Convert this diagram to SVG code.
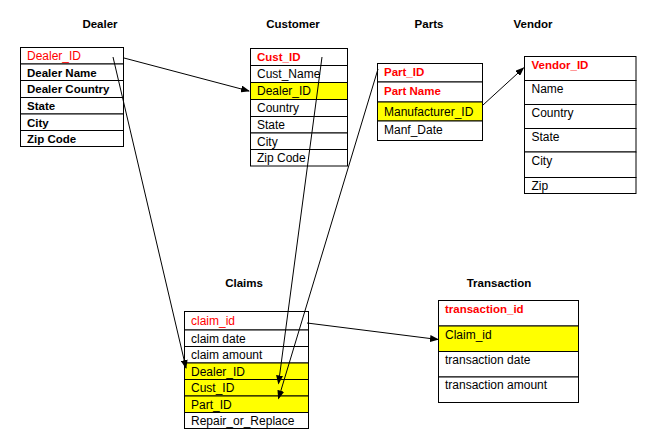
<svg xmlns="http://www.w3.org/2000/svg" width="665" height="431" viewBox="0 0 665 431">
<style>
text{font-family:"Liberation Sans",Arial,sans-serif;font-size:12px;fill:#000}
.t{font-weight:bold;font-size:11.5px;text-anchor:middle}
.b{font-weight:bold;font-size:11.5px}
.k{fill:#ff0000}
.kb{fill:#ff0000;font-weight:bold;font-size:11.5px}
.cell{fill:#fff;stroke:#000;stroke-width:1}
.fk{fill:#ffff00;stroke:#000;stroke-width:1}
.c{stroke:#000;stroke-width:1;fill:none;marker-end:url(#ah)}
</style>
<defs>
<marker id="ah" markerWidth="9" markerHeight="7" refX="8" refY="3.5" orient="auto" markerUnits="userSpaceOnUse">
<path d="M0,0 L9,3.5 L0,7 z" fill="#000"/>
</marker>
</defs>
<rect width="665" height="431" fill="#fff"/>

<g id="dealer">
<text class="t" x="100" y="28">Dealer</text>
<rect class="cell" x="20.5" y="47.5" width="103" height="16.5"/>
<rect class="cell" x="20.5" y="64" width="103" height="16.5"/>
<rect class="cell" x="20.5" y="80.5" width="103" height="17"/>
<rect class="cell" x="20.5" y="97.5" width="103" height="16.5"/>
<rect class="cell" x="20.5" y="114" width="103" height="16.5"/>
<rect class="cell" x="20.5" y="130.5" width="103" height="16"/>
<text class="k" x="27" y="60">Dealer_ID</text>
<text class="b" x="27" y="76.5">Dealer Name</text>
<text class="b" x="27" y="93">Dealer Country</text>
<text class="b" x="27" y="110">State</text>
<text class="b" x="27" y="126.5">City</text>
<text class="b" x="27" y="143">Zip Code</text>
</g>

<g id="customer">
<text class="t" x="293" y="28">Customer</text>
<rect class="cell" x="250.5" y="48.5" width="97" height="17"/>
<rect class="cell" x="250.5" y="65.5" width="97" height="17"/>
<rect class="fk" x="250.5" y="82.5" width="97" height="17"/>
<rect class="cell" x="250.5" y="99.5" width="97" height="17"/>
<rect class="cell" x="250.5" y="116.5" width="97" height="16.5"/>
<rect class="cell" x="250.5" y="133" width="97" height="16.5"/>
<rect class="cell" x="250.5" y="149.5" width="97" height="16.5"/>
<text class="kb" x="257" y="61">Cust_ID</text>
<text x="257" y="78">Cust_Name</text>
<text x="257" y="95">Dealer_ID</text>
<text x="257" y="112">Country</text>
<text x="257" y="129">State</text>
<text x="257" y="145.5">City</text>
<text x="257" y="162">Zip Code</text>
</g>

<g id="parts">
<text class="t" x="429" y="28">Parts</text>
<rect class="cell" x="377.5" y="63.5" width="105" height="18.5"/>
<rect class="cell" x="377.5" y="82" width="105" height="20"/>
<rect class="fk" x="377.5" y="102" width="105" height="19"/>
<rect class="cell" x="377.5" y="121" width="105" height="19.5"/>
<text class="kb" x="384" y="76">Part_ID</text>
<text class="kb" x="384" y="95">Part Name</text>
<text x="384" y="116">Manufacturer_ID</text>
<text x="384" y="134">Manf_Date</text>
</g>

<g id="vendor">
<text class="t" x="533" y="28">Vendor</text>
<rect class="cell" x="524.5" y="56.5" width="111.5" height="24"/>
<rect class="cell" x="524.5" y="80.5" width="111.5" height="24"/>
<rect class="cell" x="524.5" y="104.5" width="111.5" height="24"/>
<rect class="cell" x="524.5" y="128.5" width="111.5" height="23.5"/>
<rect class="cell" x="524.5" y="152" width="111.5" height="25.5"/>
<rect class="cell" x="524.5" y="177.5" width="111.5" height="16"/>
<text class="kb" x="531.5" y="68.5">Vendor_ID</text>
<text x="531.5" y="93">Name</text>
<text x="531.5" y="117">Country</text>
<text x="531.5" y="141">State</text>
<text x="531.5" y="165">City</text>
<text x="531.5" y="189.5">Zip</text>
</g>

<g id="claims">
<text class="t" x="244" y="287">Claims</text>
<rect class="cell" x="184.5" y="311.5" width="124" height="18.5"/>
<rect class="cell" x="184.5" y="330" width="124" height="16.5"/>
<rect class="cell" x="184.5" y="346.5" width="124" height="16.5"/>
<rect class="fk" x="184.5" y="363" width="124" height="16.5"/>
<rect class="fk" x="184.5" y="379.5" width="124" height="16.5"/>
<rect class="fk" x="184.5" y="396" width="124" height="16.5"/>
<rect class="cell" x="184.5" y="412.5" width="124" height="16"/>
<text class="k" x="191" y="324.5">claim_id</text>
<text x="191" y="342.5">claim date</text>
<text x="191" y="359">claim amount</text>
<text x="191" y="375.5">Dealer_ID</text>
<text x="191" y="392">Cust_ID</text>
<text x="191" y="408.5">Part_ID</text>
<text x="191" y="425">Repair_or_Replace</text>
</g>

<g id="transaction">
<text class="t" x="499" y="287">Transaction</text>
<rect class="cell" x="438.5" y="300.5" width="140" height="25.5"/>
<rect class="fk" x="438.5" y="326" width="140" height="25.5"/>
<rect class="cell" x="438.5" y="351.5" width="140" height="25.5"/>
<rect class="cell" x="438.5" y="377" width="140" height="25.5"/>
<text class="kb" x="445" y="313">transaction_id</text>
<text x="445" y="338.5">Claim_id</text>
<text x="445" y="363.5">transaction date</text>
<text x="445" y="389">transaction amount</text>
</g>

<g id="connectors">
<line class="c" x1="124" y1="58" x2="249" y2="91"/>
<line class="c" x1="113" y1="57" x2="186" y2="368"/>
<line class="c" x1="322" y1="57" x2="278.5" y2="383.5"/>
<line class="c" x1="378" y1="69" x2="278.5" y2="398.5"/>
<line class="c" x1="483" y1="105" x2="523.5" y2="68"/>
<line class="c" x1="307" y1="323" x2="438" y2="339.5"/>
</g>
</svg>
